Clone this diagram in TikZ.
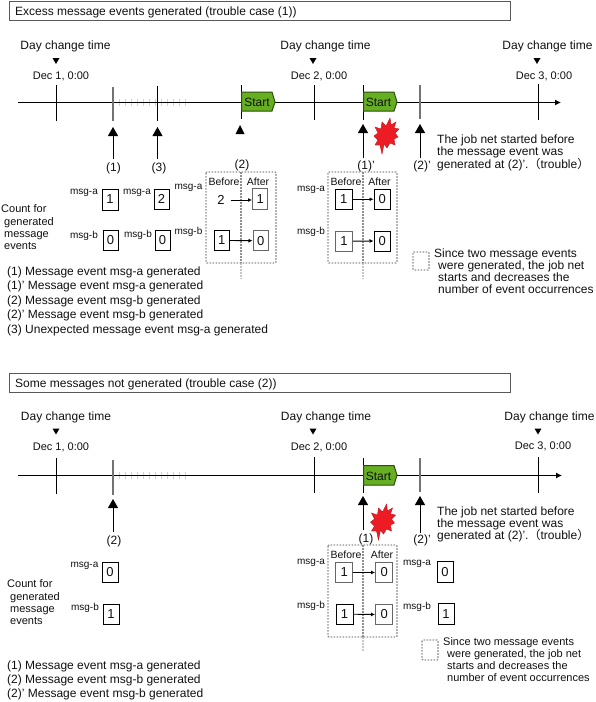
\documentclass[tikz,border=0pt]{standalone}
\usepackage{fontspec}
\setmainfont{Liberation Sans}
\newfontfamily\cjkf{Noto Sans CJK JP}
\usetikzlibrary{arrows.meta,shapes.geometric}
\definecolor{inkc}{HTML}{111111}
\definecolor{startg}{HTML}{66AE22}
\definecolor{dotg}{HTML}{909090}
\definecolor{burstr}{HTML}{ED1C24}
\tikzset{
  txt/.style={inner sep=0pt,anchor=base west,font=\fontsize{12}{12}\selectfont,text=inkc},
  txts/.style={txt,font=\fontsize{11}{11}\selectfont},
  ctr/.style={inner sep=0pt,anchor=center,font=\fontsize{12}{12}\selectfont,text=inkc},
  dec/.style={inner sep=0pt,anchor=center,font=\fontsize{11}{11}\selectfont,text=inkc},
  msg/.style={inner sep=0pt,anchor=center,font=\fontsize{10}{10}\selectfont,text=inkc},
  befaf/.style={inner sep=0pt,anchor=center,font=\fontsize{10.5}{10.5}\selectfont,text=inkc},
  cnt/.style={inner sep=0pt,anchor=base west,font=\fontsize{11}{11}\selectfont,text=inkc},
  titlebox/.style={draw=black!65,line width=1pt,fill=white,inner sep=0pt,minimum height=19pt,minimum width=501pt,anchor=north west,text=inkc},
  valb/.style={draw=black,line width=1pt,fill=white,inner sep=0pt,anchor=north west,font=\fontsize{13}{13}\selectfont,text=inkc},
  valg/.style={valb,draw=black!60,line width=1.4pt},
  timeln/.style={line width=1pt,-{Latex[length=6pt,width=6pt]},black},
  tickb/.style={line width=1pt,black},
  tickg/.style={line width=1.3pt,black!55},
  fain/.style={line width=.8pt,black!18},
  evarr/.style={line width=1pt,black,-{Triangle[length=9pt,width=10pt]}},
  cntarr/.style={line width=.9pt,black,-{Latex[length=4pt,width=4pt]}},
  dashb/.style={draw=dotg,line width=1.4pt,dash pattern=on 1.6pt off 1.4pt,rounded corners=1pt},
  dashv/.style={draw=dotg,line width=1.3pt,dash pattern=on 1.6pt off 1.4pt},
  dashl/.style={draw=black!22,line width=1.2pt,dash pattern=on 1.5pt off 1.5pt},
  trimark/.style={fill=black,draw=none},
  startshape/.style={draw=black!55!startg,line width=1pt,fill=startg},
  burst/.style={fill=burstr,draw=burstr!80!black,line width=.4pt}
}
\newcommand{\valnode}[7]{\node[#1,minimum width=#6pt,minimum height=#7pt] (#2) at (#3,#4) {#5};}
\newcommand{\burstat}[3]{% name, x, y
  \coordinate (#1) at (#2,#3);
  \path[burst,shift={(#1)}] (4,-18) -- (5,-11) -- (10,-14) -- (8,-8) -- (13,-7) -- (9,-3) -- (12,1)
    -- (8,3) -- (9,9) -- (4,7) -- (1,12) -- (-2,8) -- (-4,18) -- (-6,9) -- (-11,9) -- (-8,4)
    -- (-12,0) -- (-8,-3) -- (-11,-9) -- (-5,-7) -- (-4,-14) -- (0,-10) -- cycle;}
\begin{document}
\begin{tikzpicture}[x=1pt,y=-1pt]
\useasboundingbox (0,0) rectangle (596,702);
\fill[white] (0,0) rectangle (596,702);

% ===== Case 1 =====
\node[titlebox] (t1) at (8.5,0.5) {};
\node[txt] (t1x) at (15,15) {Excess message events generated (trouble case (1))};

\coordinate (aL) at (18,102.5); \coordinate (aR) at (561,102.5);
\foreach \i in {1,...,12}{\draw[fain] ({113+\i*6},99) -- ({113+\i*6},106);}
\draw[timeln] (aL) -- (aR);
\foreach \x/\a/\b in {56/85/121,157/86/121,241/85/119,314/85/120,363/85/120,538/84/120}{\draw[tickb] (\x,\a) -- (\x,\b);}
\foreach \x/\a/\b in {113/87/121,420/85/119}{\draw[tickg] (\x,\a) -- (\x,\b);}
\draw[startshape] (241.5,92) -- (272,92) -- (275,102) -- (272,111) -- (241.5,111) -- cycle;
\node[ctr] (s1) at (257,102.5) {Start};
\draw[startshape] (363.5,92) -- (394,92) -- (397,102) -- (394,111) -- (363.5,111) -- cycle;
\node[ctr] (s2) at (378.5,102.5) {Start};

\node[ctr] (d1) at (65.5,46) {Day change time};
\node[ctr] (d2) at (325.5,46) {Day change time};
\node[ctr] (d3) at (547.5,46) {Day change time};
\foreach \x in {56,313,537}{\fill[trimark] (\x-3.5,58) -- (\x+3.5,58) -- (\x,64) -- cycle;}
\node[dec] (e1) at (61,76) {Dec 1, 0:00};
\node[dec] (e2) at (319,76) {Dec 2, 0:00};
\node[dec] (e3) at (544,76) {Dec 3, 0:00};

\coordinate (p1) at (113,159); \coordinate (q1) at (113,127);
\coordinate (p3) at (157.5,159); \coordinate (q3) at (157.5,127);
\coordinate (p1b) at (363,158); \coordinate (q1b) at (363,124);
\coordinate (p2b) at (420,158); \coordinate (q2b) at (420,124);
\draw[evarr] (p1) -- (q1);
\draw[evarr] (p3) -- (q3);
\draw[evarr] (p1b) -- (q1b);
\draw[evarr] (p2b) -- (q2b);
\fill[trimark] (240,125) -- (244.5,134) -- (235.5,134) -- cycle;
\burstat{b1}{386}{136}
\node[ctr] (l1) at (113.5,168) {(1)};
\node[ctr] (l3) at (159,168) {(3)};
\node[ctr] (l2) at (242,165) {(2)};
\node[ctr] (l1b) at (366,166) {(1)'};
\node[ctr] (l2b) at (422,166) {(2)'};

\node[txt] at (437,143) {The job net started before};
\node[txt] at (437,155.5) {the message event was};
\node[txt] at (437,168) {generated at (2)'.{\cjkf （}trouble{\cjkf ）}};

\node[cnt] at (1,212) {Count for};
\node[cnt] at (4,225) {generated};
\node[cnt] at (4,237) {message};
\node[cnt] at (4,249) {events};

\node[msg] at (84,193) {msg-a}; \node[msg] at (84,236) {msg-b};
\node[msg] at (137,193) {msg-a}; \node[msg] at (138,235) {msg-b};
\node[msg] at (188.5,188) {msg-a}; \node[msg] at (188.5,232) {msg-b};
\valnode{valb}{c11}{101.5}{188.5}{1}{16}{21}
\valnode{valb}{c12}{102.5}{230}{0}{15}{20}
\valnode{valb}{c21}{153.5}{188.5}{2}{15}{20}
\valnode{valb}{c22}{154.5}{230}{0}{15}{20}

\draw[dashl] (241,263) -- (241,279);
\draw[dashb] (206,172) rectangle (276,263);
\draw[dashv] (241,172) -- (241,263);
\node[befaf] (bf1) at (224,182) {Before};
\node[befaf] (af1) at (258,182) {After};
\node[inner sep=0pt,font=\fontsize{13}{13}\selectfont,text=inkc] (n2) at (221,199.5) {2};
\valnode{valg}{c31}{252}{188}{1}{15}{20.5}
\valnode{valb}{c32}{213.5}{230}{1}{15.5}{20}
\valnode{valg}{c33}{252.5}{230}{0}{15}{20}
\draw[cntarr] (n2.east)+(6,0.5) -- (c31.west|-0,200);
\draw[cntarr] (c32.east) -- (c33.west);

\draw[dashl] (363,263) -- (363,279);
\draw[dashb] (328,172) rectangle (397,263);
\draw[dashv] (363,172) -- (363,263);
\node[befaf] (bf2) at (346,182) {Before};
\node[befaf] (af2) at (379.5,182) {After};
\node[msg] at (311,190) {msg-a}; \node[msg] at (311,232) {msg-b};
\valnode{valb}{c41}{335}{188.5}{1}{16.5}{20.5}
\valnode{valb}{c42}{373.5}{188.5}{0}{16.5}{20.5}
\valnode{valg}{c43}{335}{230.5}{1}{16.5}{20}
\valnode{valb}{c44}{373.5}{230.5}{0}{16.5}{20}
\draw[cntarr] (c41.east) -- (c42.west);
\draw[cntarr] (c43.east) -- (c44.west);

\draw[dashb] (413,252) rectangle (429,270);
\node[txt] at (434,257) {Since two message events};
\node[txt] at (438,269) {were generated, the job net};
\node[txt] at (438,281) {starts and decreases the};
\node[txt] at (438,293) {number of event occurrences};

\node[txt] at (7,275) {(1) Message event msg-a generated};
\node[txt] at (7,289.5) {(1)' Message event msg-a generated};
\node[txt] at (7,304) {(2) Message event msg-b generated};
\node[txt] at (7,318.5) {(2)' Message event msg-b generated};
\node[txt] at (7,333) {(3) Unexpected message event msg-a generated};

% ===== Case 2 =====
\node[titlebox] (t2) at (8.5,372.5) {};
\node[txt] (t2x) at (15,387) {Some messages not generated (trouble case (2))};

\coordinate (cL) at (18,475.5); \coordinate (cR) at (562,475.5);
\foreach \i in {1,...,12}{\draw[fain] ({113+\i*6},472) -- ({113+\i*6},479);}
\draw[timeln] (cL) -- (cR);
\foreach \x/\a/\b in {56/458/494,314/457/493,363/458/493,538/457/493}{\draw[tickb] (\x,\a) -- (\x,\b);}
\foreach \x/\a/\b in {113/460/495,420/458/492}{\draw[tickg] (\x,\a) -- (\x,\b);}
\draw[startshape] (363.5,465.5) -- (394,465.5) -- (397,475) -- (394,485) -- (363.5,485) -- cycle;
\node[ctr] (s3) at (378.5,476) {Start};

\node[ctr] (d4) at (66,417) {Day change time};
\node[ctr] (d5) at (326,417) {Day change time};
\node[ctr] (d6) at (549.5,417) {Day change time};
\foreach \x in {56,313,538}{\fill[trimark] (\x-3.5,428.5) -- (\x+3.5,428.5) -- (\x,434.5) -- cycle;}
\node[dec] (e4) at (61,447) {Dec 1, 0:00};
\node[dec] (e5) at (319,447) {Dec 2, 0:00};
\node[dec] (e6) at (543,446) {Dec 3, 0:00};

\coordinate (p4) at (113,532); \coordinate (q4) at (113,499);
\coordinate (p5) at (363,530); \coordinate (q5) at (363,496);
\coordinate (p6) at (420,533); \coordinate (q6) at (420,496);
\draw[evarr] (p4) -- (q4);
\draw[evarr] (p5) -- (q5);
\draw[evarr] (p6) -- (q6);
\burstat{b2}{382.5}{522}
\node[ctr] (l4) at (114,541) {(2)};
\node[ctr] (l5) at (366,539) {(1)};
\node[ctr] (l6) at (422,540) {(2)'};

\node[txt] at (437,515) {The job net started before};
\node[txt] at (437,527) {the message event was};
\node[txt] at (437,539.5) {generated at (2)'.{\cjkf （}trouble{\cjkf ）}};

\node[cnt] at (7,587) {Count for};
\node[cnt] at (10,600) {generated};
\node[cnt] at (10,612) {message};
\node[cnt] at (10,624) {events};

\node[msg] at (84.5,566) {msg-a}; \node[msg] at (85,608) {msg-b};
\valnode{valb}{e11}{101.5}{561.5}{0}{16}{20.5}
\valnode{valb}{e12}{102.5}{603.5}{1}{16}{20.5}

\draw[dashl] (363,637) -- (363,651);
\draw[dashb] (328,545) rectangle (397,637);
\draw[dashv] (363,545) -- (363,637);
\node[befaf] (bf3) at (346,555) {Before};
\node[befaf] (af3) at (382,555) {After};
\node[msg] at (311,563) {msg-a}; \node[msg] at (311,606) {msg-b};
\valnode{valg}{e21}{335}{561.5}{1}{17}{20.5}
\valnode{valg}{e22}{375}{561.5}{0}{17}{20.5}
\valnode{valb}{e23}{335.5}{603.5}{1}{17}{20.5}
\valnode{valg}{e24}{375}{603.5}{0}{17}{20.5}
\draw[cntarr] (e21.east) -- (e22.west);
\draw[cntarr] (e23.east) -- (e24.west);
\node[msg] at (417,564) {msg-a}; \node[msg] at (417,607) {msg-b};
\valnode{valb}{e31}{436.5}{561}{0}{16}{20.5}
\valnode{valb}{e32}{437.5}{603}{1}{16}{20.5}

\draw[dashb] (422,640) rectangle (438,660);
\node[txts] at (443,645) {Since two message events};
\node[txts] at (447,657) {were generated, the job net};
\node[txts] at (447,669) {starts and decreases the};
\node[txts] at (447,681) {number of event occurrences};

\node[txt] at (7,669) {(1) Message event msg-a generated};
\node[txt] at (7,683) {(2) Message event msg-b generated};
\node[txt] at (7,697) {(2)' Message event msg-b generated};
\end{tikzpicture}
\end{document}
